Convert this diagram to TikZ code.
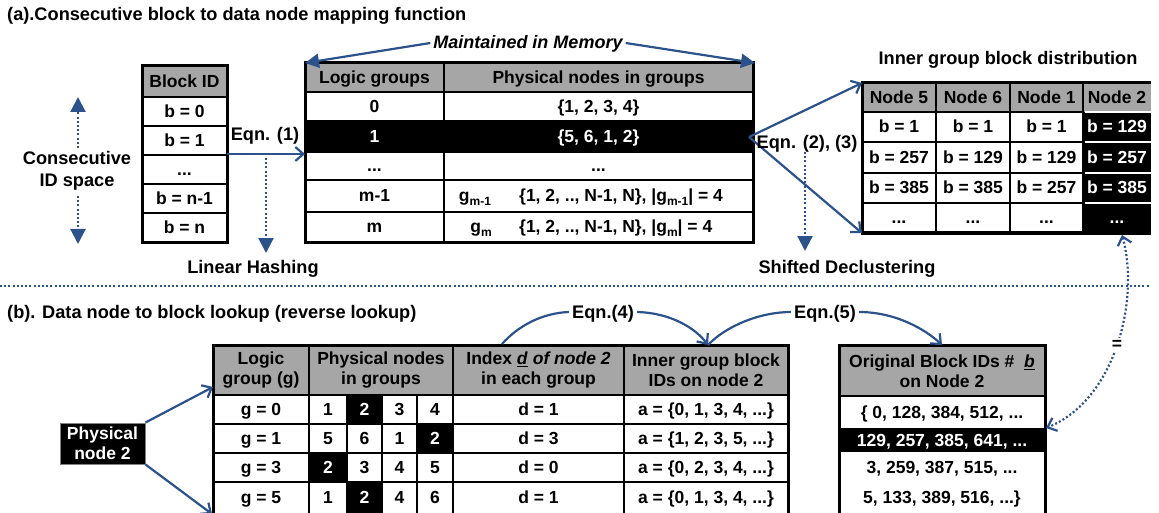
\documentclass[tikz,border=0pt]{standalone}
\usepackage{fontspec}
\setmainfont{Liberation Sans}
\usetikzlibrary{arrows.meta}
\definecolor{arrowblue}{RGB}{44,82,140}
\definecolor{hdrgray}{RGB}{166,166,166}
\newcommand{\sbs}[1]{\raisebox{-4pt}{\fontsize{12}{12}\selectfont #1}}
\begin{document}
\begin{tikzpicture}[x=1pt,y=-1pt,
  every node/.style={font=\bfseries\fontsize{17.5}{20}\selectfont, inner sep=0pt},
  big/.style={font=\bfseries\fontsize{18.2}{21}\selectfont},
  tx/.style={text height=13pt, text depth=1pt},
  wt/.style={text=white},
  ml/.style={align=center},
  frame/.style={draw=black, line width=3pt},
  rule/.style={draw=black, line width=2.5pt},
  wrule/.style={draw=white, line width=2.5pt},
  barrow/.style={draw=arrowblue, line width=2.2pt, -{Straight Barb[length=8pt,width=14pt]}},
  farrow/.style={draw=arrowblue, line width=2.2pt, -{Triangle[length=14pt,width=14pt]}},
  dotline/.style={draw=arrowblue, line width=2.2pt, dash pattern=on 2pt off 2.2pt},
  dotarrow/.style={dotline, -{Triangle[length=15pt,width=15pt]}},
  lbl/.style={inner sep=3pt}
]
\useasboundingbox (0,0) rectangle (1159,513);

% ---------- titles ----------
\node[anchor=west, tx, big] (ta) at (7,15) {(a).Consecutive block to data node mapping function};
\node[anchor=west, tx, big] (tb) at (7,312) {(b). Data node to block lookup (reverse lookup)};

% ---------- Block ID table ----------
\fill[hdrgray] (142,66) rectangle (227,97);
\foreach \yy in {97,126,155,184,213} \draw[rule] (142,\yy) -- (227,\yy);
\draw[frame] (142,66) rectangle (227,242);
\node[tx] (bidh) at (184.5,81.5) {Block ID};
\node[tx] (bid0) at (184.5,111.5) {b = 0};
\node[tx] (bid1) at (184.5,140.5) {b = 1};
\node[tx] (bid2) at (184.5,169.5) {...};
\node[tx] (bid3) at (184.5,198.5) {b = n-1};
\node[tx] (bid4) at (184.5,227.5) {b = n};

% consecutive ID space
\node[ml, big] (cid) at (77,171) {Consecutive\\[1pt]ID space};
\coordinate (cidu0) at (78,148);
\coordinate (cidu1) at (78,97);
\coordinate (cidd0) at (78,196);
\coordinate (cidd1) at (78,244);
\draw[dotarrow] (cidu0) -- (cidu1);
\draw[dotarrow] (cidd0) -- (cidd1);

% ---------- main table ----------
\fill[hdrgray] (305,63) rectangle (753,92);
\fill[black] (305,121) rectangle (753,152);
\foreach \yy in {92,121,152,180,212} \draw[rule] (305,\yy) -- (753,\yy);
\draw[rule] (444,63) -- (444,242);
\draw[frame] (305,63) rectangle (753,242);
\coordinate (mtnw) at (305,63);
\coordinate (mtne) at (755,63);
\coordinate (mtw) at (305,154);
\coordinate (r1e) at (749,137);
\node[tx] (lgh) at (374.5,77.5) {Logic groups};
\node[tx] (pnh) at (598.5,77.5) {Physical nodes in groups};
\node[tx] (lg0) at (374.5,106.5) {0};
\node[tx] (pn0) at (598.5,106.5) {\{1, 2, 3, 4\}};
\node[tx, wt] (lg1) at (374.5,136.5) {1};
\node[tx, wt] (pn1) at (598.5,136.5) {\{5, 6, 1, 2\}};
\node[tx] (lg2) at (374.5,166) {...};
\node[tx] (pn2) at (598.5,166) {...};
\node[tx] (lg3) at (374.5,196) {m-1};
\node[tx] (gm1) at (475,196) {g\sbs{m-1}};
\node[tx, anchor=west] (pn3) at (519,196) {\{1, 2, .., N-1, N\}, |g\sbs{m-1}| = 4};
\node[tx] (lg4) at (374.5,227) {m};
\node[tx] (gm) at (481,227) {g\sbs{m}};
\node[tx, anchor=west] (pn4) at (519,227) {\{1, 2, .., N-1, N\}, |g\sbs{m}| = 4};

% maintained in memory
\node[tx, lbl, font=\bfseries\itshape\fontsize{18}{21}\selectfont] (mm) at (528,43) {Maintained in Memory};
\draw[farrow] (mm.west) -- (mtnw);
\draw[farrow] (mm.east) -- (mtne);

% Eqn (1)
\coordinate (bide) at (227,154);
\draw[barrow] (bide) -- (mtw);
\node[tx, big] (eq1) at (265,135) {Eqn. (1)};
\coordinate (lh0) at (266,158);
\coordinate (lh1) at (266,253);
\draw[dotarrow] (lh0) -- (lh1);
\node[tx, big] (lh) at (253,267) {Linear Hashing};

% ---------- right table ----------
\fill[hdrgray] (862,83) rectangle (1151,112);
\fill[black] (1083,112) rectangle (1151,233);
\foreach \yy in {112,142,173,203} {
  \draw[rule] (862,\yy) -- (1083,\yy);
  \draw[wrule] (1084.5,\yy) -- (1151,\yy);
}
\foreach \xx in {936,1010,1083} \draw[rule] (\xx,83) -- (\xx,233);
\draw[frame] (1151,233) -- (862,233) -- (862,83) -- (1151,83);
\coordinate (rtnw) at (862,83);
\coordinate (rtsw) at (862,233);
\node[tx] (rh1) at (899,97.5) {Node 5};
\node[tx] (rh2) at (973,97.5) {Node 6};
\node[tx] (rh3) at (1046.5,97.5) {Node 1};
\node[tx] (rh4) at (1117,97.5) {Node 2};
\node[tx] (r11) at (899,127) {b = 1};
\node[tx] (r12) at (973,127) {b = 1};
\node[tx] (r13) at (1046.5,127) {b = 1};
\node[tx, wt] (r14) at (1117,127) {b = 129};
\node[tx] (r21) at (899,157.5) {b = 257};
\node[tx] (r22) at (973,157.5) {b = 129};
\node[tx] (r23) at (1046.5,157.5) {b = 129};
\node[tx, wt] (r24) at (1117,157.5) {b = 257};
\node[tx] (r31) at (899,188) {b = 385};
\node[tx] (r32) at (973,188) {b = 385};
\node[tx] (r33) at (1046.5,188) {b = 257};
\node[tx, wt] (r34) at (1117,188) {b = 385};
\node[tx] (r41) at (899,218) {...};
\node[tx] (r42) at (973,218) {...};
\node[tx] (r43) at (1046.5,218) {...};
\node[tx, wt] (r44) at (1117,218) {...};
\coordinate (r44s) at (1122,235);

\node[tx, big] (igbd) at (1008,59) {Inner group block distribution};
\draw[barrow] (r1e) -- (rtnw);
\draw[barrow] (r1e) -- (rtsw);
\node[tx, big] (eq23) at (807,143) {Eqn. (2), (3)};
\coordinate (sd0) at (805,152);
\coordinate (sd1) at (805,251);
\draw[dotarrow] (sd0) -- (sd1);
\node[tx, big] (sd) at (847,267) {Shifted Declustering};

% separator
\coordinate (sepl) at (0,286);
\coordinate (sepr) at (1150,286);
\draw[dotline] (sepl) -- (sepr);

% ---------- bottom table ----------
\fill[hdrgray] (213,345) rectangle (788,395);
\fill[black] (347,395) rectangle (382,424);
\fill[black] (417,424) rectangle (453,453);
\fill[black] (309,453) rectangle (347,482);
\fill[black] (347,482) rectangle (382,520);
\foreach \yy in {395,424,453,482} \draw[rule] (213,\yy) -- (788,\yy);
\foreach \xx in {309,453,624} \draw[rule] (\xx,345) -- (\xx,520);
\foreach \xx in {347,382,417} \draw[rule] (\xx,395) -- (\xx,520);
\draw[frame] (213,345) rectangle (788,520);
\node[ml] (bh1) at (261,370) {Logic\\group (g)};
\node[ml] (bh2) at (381,370) {Physical nodes\\in groups};
\node[ml] (bh3) at (538.5,370) {Index \underline{\textit{d}} \textit{of node 2}\\in each group};
\node[ml] (bh4) at (706,370) {Inner group block\\IDs on node 2};
\coordinate (idxtop) at (502,344);
\coordinate (igbtop) at (708,345);
\coordinate (lgw) at (213,387);
\coordinate (lgsw) at (212,514);

\node[tx] (g0) at (261,409.5) {g = 0};
\node[tx] (g0a) at (328,409.5) {1};
\node[tx, wt] (g0b) at (364.5,409.5) {2};
\node[tx] (g0c) at (399.5,409.5) {3};
\node[tx] (g0d) at (435,409.5) {4};
\node[tx] (g0e) at (538.5,409.5) {d = 1};
\node[tx] (g0f) at (706,409.5) {a = \{0, 1, 3, 4, ...\}};

\node[tx] (g1) at (261,438.5) {g = 1};
\node[tx] (g1a) at (328,438.5) {5};
\node[tx] (g1b) at (364.5,438.5) {6};
\node[tx] (g1c) at (399.5,438.5) {1};
\node[tx, wt] (g1d) at (435,438.5) {2};
\node[tx] (g1e) at (538.5,438.5) {d = 3};
\node[tx] (g1f) at (706,438.5) {a = \{1, 2, 3, 5, ...\}};

\node[tx] (g3) at (261,467.5) {g = 3};
\node[tx, wt] (g3a) at (328,467.5) {2};
\node[tx] (g3b) at (364.5,467.5) {3};
\node[tx] (g3c) at (399.5,467.5) {4};
\node[tx] (g3d) at (435,467.5) {5};
\node[tx] (g3e) at (538.5,467.5) {d = 0};
\node[tx] (g3f) at (706,467.5) {a = \{0, 2, 3, 4, ...\}};

\node[tx] (g5) at (261,497) {g = 5};
\node[tx] (g5a) at (328,497) {1};
\node[tx, wt] (g5b) at (364.5,497) {2};
\node[tx] (g5c) at (399.5,497) {4};
\node[tx] (g5d) at (435,497) {6};
\node[tx] (g5e) at (538.5,497) {d = 1};
\node[tx] (g5f) at (706,497) {a = \{0, 1, 3, 4, ...\}};

% physical node 2
\node[ml, fill=black, draw=gray, line width=1pt, text=white, minimum width=85pt, minimum height=41pt] (pnode) at (102.5,443.5) {Physical\\node 2};
\draw[barrow] (pnode.north east) -- (lgw);
\draw[barrow] (pnode.south east) -- (lgsw);

% ---------- original block IDs table ----------
\fill[hdrgray] (839,345) rectangle (1045,396);
\fill[black] (839,428) rectangle (1045,452);
\draw[rule] (839,396) -- (1045,396);
\draw[frame] (839,345) rectangle (1045,520);
\coordinate (obtop) at (942,345);
\coordinate (obe) at (1046,428);
\node[ml] (obh) at (942,371) {Original Block IDs \#~~\underline{\textit{b}}\\on Node 2};
\node[tx] (ob1) at (942,412) {\{ 0, 128, 384, 512, ...};
\node[tx, wt] (ob2) at (942,440) {129, 257, 385, 641, ...};
\node[tx] (ob3) at (942,467) {3, 259, 387, 515, ...};
\node[tx] (ob4) at (942,497) {5, 133, 389, 516, ...\}};

% ---------- Eqn (4), (5) ----------
\node[tx, lbl, big] (e4) at (603,312) {Eqn.(4)};
\node[tx, lbl, big] (e5) at (825,312) {Eqn.(5)};
\draw[draw=arrowblue, line width=2.2pt] (idxtop) .. controls (518,326) and (542,313) .. (e4.west);
\draw[barrow] (e4.east) .. controls (672,313) and (696,329) .. (igbtop);
\draw[draw=arrowblue, line width=2.2pt] (igbtop) .. controls (726,326) and (760,312) .. (e5.west);
\draw[barrow] (e5.east) .. controls (895,312) and (925,329) .. (obtop);

% equality link
\draw[dotline, {Straight Barb[length=8pt,width=14pt]}-{Straight Barb[length=8pt,width=14pt]}]
  (r44s) .. controls (1140,300) and (1115,400) .. (obe);
\node[fill=white, inner sep=2pt] (eq) at (1117,345) {=};
\end{tikzpicture}
\end{document}
